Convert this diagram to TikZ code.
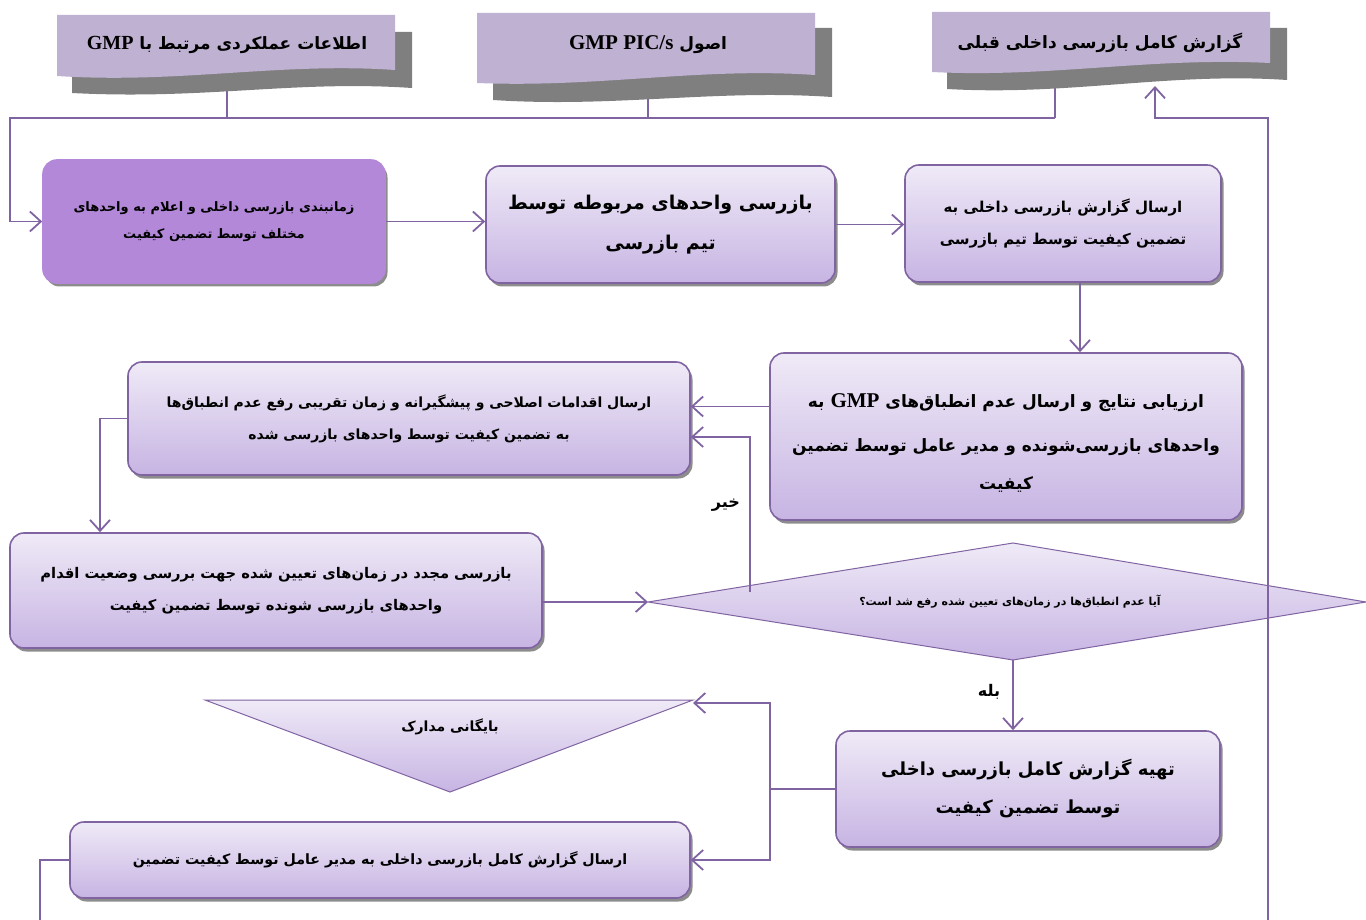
\documentclass[tikz,border=0pt]{standalone}
\usepackage{fontspec}
\setmainfont{Liberation Serif}
\newfontfamily\arabicfont[Script=Arabic]{DejaVu Sans}
\newfontfamily\latinfont{Liberation Serif}
\TeXXeTstate=1
\usetikzlibrary{arrows.meta,shapes.geometric,shadows,calc}
\definecolor{edge}{HTML}{8064A2}
\definecolor{topc}{HTML}{EFEAF7}
\definecolor{botc}{HTML}{C7B4E3}
\definecolor{bannerc}{HTML}{BFB1D1}
\definecolor{shadowc}{HTML}{7F7F7F}
\definecolor{firstc}{HTML}{B388D9}
\newcommand{\rtl}[1]{\beginR #1\endR}
\newcommand{\lt}[1]{\beginL{\latinfont\bfseries #1}\endL}
\tikzset{
  conn/.style={draw=edge, line width=1.8pt},
  arr/.style={conn, -{Straight Barb[length=11pt,width=20pt,line width=1.8pt]}},
  fs/.style 2 args={font=\arabicfont\bfseries\fontsize{#1}{#2}\selectfont},
  procbox/.style={rounded corners=14pt, draw=edge, line width=1.6pt,
    top color=topc, bottom color=botc, align=center, inner sep=0pt,
    drop shadow={shadow xshift=2.5pt, shadow yshift=-3.5pt, fill=black!60, opacity=0.75}},
  bannerbg/.style={fill=shadowc},
  bannerfg/.style={fill=bannerc},
  lbl/.style={fs={16}{20}},
}
\begin{document}
\begin{tikzpicture}[x=1pt,y=-1pt]
\useasboundingbox (0,0) rectangle (1366,920);

% junction coordinates
\coordinate (b1b) at (227,88);
\coordinate (b2b) at (648,95);
\coordinate (b3b) at (1055,85);
\coordinate (j3) at (1055,118);
\coordinate (j0) at (10,118);
\coordinate (r0) at (1268,920);
\coordinate (r1) at (1268,118);
\coordinate (b3a) at (1155,86);
\coordinate (xa) at (1080,0);
\coordinate (xno) at (750,592);
\coordinate (x5) at (100,0);
\coordinate (xk) at (770,0);
\coordinate (trite) at (693,703);
\coordinate (bot) at (40,920);
\coordinate (diaW) at (648,602);
\coordinate (diaN) at (1013,543);
\coordinate (diaE) at (1366,602);
\coordinate (diaS) at (1013,660);

% connectors from banners
\draw[conn] (b1b) -- (b1b |- j0);
\draw[conn] (b2b) -- (b2b |- j0);
\draw[conn] (b3b) -- (j3);

% banners
\fill[bannerbg] (72,32) -- (412,32) -- (412,88) .. controls (295,80) and (205,100) .. (72,93) -- cycle;
\fill[bannerfg] (57,15) -- (395,15) -- (395,70) .. controls (280,62) and (180,84) .. (57,76) -- cycle;
\node[fs={17}{20}] (ban1) at (227,45) {\rtl{اطلاعات عملکردی مرتبط با \lt{\fontsize{20}{20}\selectfont GMP}}};

\fill[bannerbg] (493,28) -- (832,28) -- (832,97) .. controls (715,89) and (615,108) .. (493,100) -- cycle;
\fill[bannerfg] (477,13) -- (815,13) -- (815,75) .. controls (700,67) and (600,88) .. (477,83) -- cycle;
\node[fs={17}{20}] (ban2) at (648,45) {\rtl{اصول \lt{\fontsize{21}{21}\selectfont GMP PIC/s}}};

\fill[bannerbg] (947,28) -- (1287,28) -- (1287,80) .. controls (1170,72) and (1070,96) .. (947,89) -- cycle;
\fill[bannerfg] (932,12) -- (1270,12) -- (1270,63) .. controls (1150,57) and (1050,78) .. (932,72) -- cycle;
\node[fs={17}{20}] (ban3) at (1100,43) {\rtl{گزارش کامل بازرسی داخلی قبلی}};

% process boxes
\node[procbox, fs={13}{27}, top color=firstc, bottom color=firstc, draw=firstc,
  minimum width=342pt, minimum height=123pt] (box1) at (214,221.5)
  {\rtl{زمانبندی بازرسی داخلی و اعلام به واحدهای}\\\rtl{مختلف توسط تضمین کیفیت}};
\node[procbox, fs={19}{40}, minimum width=349pt, minimum height=117pt] (box2) at (660.5,224.5)
  {\rtl{بازرسی واحدهای مربوطه توسط}\\\rtl{تیم بازرسی}};
\node[procbox, fs={15}{32}, minimum width=316pt, minimum height=117pt] (box3) at (1063,223.5)
  {\rtl{ارسال گزارش بازرسی داخلی به}\\\rtl{تضمین کیفیت توسط تیم بازرسی}};
\node[procbox, minimum width=472pt, minimum height=167pt] (box4) at (1006,436.5) {};
\node[fs={17}{44}, align=center] (box4t) at (1006,443)
  {\rtl{ارزیابی نتایج و ارسال عدم انطباق‌های \lt{\fontsize{21}{21}\selectfont GMP} به}\\\rtl{واحدهای بازرسی‌شونده و مدیر عامل توسط تضمین}\\[-6pt]\rtl{کیفیت}};
\node[procbox, fs={14}{32}, minimum width=562pt, minimum height=113pt] (box5) at (409,418.5)
  {\rtl{ارسال اقدامات اصلاحی و پیشگیرانه و زمان تقریبی رفع عدم انطباق‌ها}\\\rtl{به تضمین کیفیت توسط واحدهای بازرسی شده}};
\node[procbox, fs={14.7}{32}, minimum width=532pt, minimum height=115pt] (box6) at (276,590.5)
  {\rtl{بازرسی مجدد در زمان‌های تعیین شده جهت بررسی وضعیت اقدام}\\\rtl{واحدهای بازرسی شونده توسط تضمین کیفیت}};
\shade[draw=edge, line width=1pt, top color=topc, bottom color=botc]
  (diaW) -- (diaN) -- (diaE) -- (diaS) -- cycle;
\node[fs={11}{14}] (dia) at (1010,602)
  {\rtl{آیا عدم انطباق‌ها در زمان‌های تعیین شده رفع شد است؟}};
\node[procbox, fs={18}{38}, minimum width=384pt, minimum height=116pt] (box7) at (1028,789)
  {\rtl{تهیه گزارش کامل بازرسی داخلی}\\\rtl{توسط تضمین کیفیت}};
\node[procbox, fs={14.2}{20}, minimum width=620pt, minimum height=76pt] (box8) at (380,860)
  {\rtl{ارسال گزارش کامل بازرسی داخلی به مدیر عامل توسط کیفیت تضمین}};
\shade[draw=edge, line width=1pt, top color=topc, bottom color=botc]
  (205,700) -- (693,700) -- (450,792) -- cycle;
\node[fs={14}{18}] (tri) at (450,727) {\rtl{بایگانی مدارک}};

% labels
\node[lbl] (no) at (726,505) {\rtl{خیر}};
\node[lbl] (yes) at (989,692) {\rtl{بله}};

% connectors
\draw[arr] (j3) -- (j0) |- (box1.west);
\draw[arr] (box1.east) -- (box1.east -| box2.west);
\draw[arr] (box2.east) -- (box2.east -| box3.west);
\draw[arr] (box3.south -| xa) -- (box4.north -| xa);
\draw[arr] ($(box4.west)+(0,-30)$) -- ($(box5.east)+(0,-12)$);
\draw[arr] (xno) |- ($(box5.east)+(0,18.5)$);
\draw[arr] (box5.west) -| (box6.north -| x5);
\draw[arr] (box6.east |- diaW) -- (diaW);
\draw[arr] (diaS) -- (box7.north -| diaS);
\draw[conn] (box7.west) -- (box7.west -| xk);
\draw[arr] (box7.west -| xk) |- (trite);
\draw[arr] (box7.west -| xk) |- (box8.east);
\draw[conn] (box8.west) -| (bot);
\draw[arr] (r0) -- (r1) -| (b3a);
\end{tikzpicture}
\end{document}
